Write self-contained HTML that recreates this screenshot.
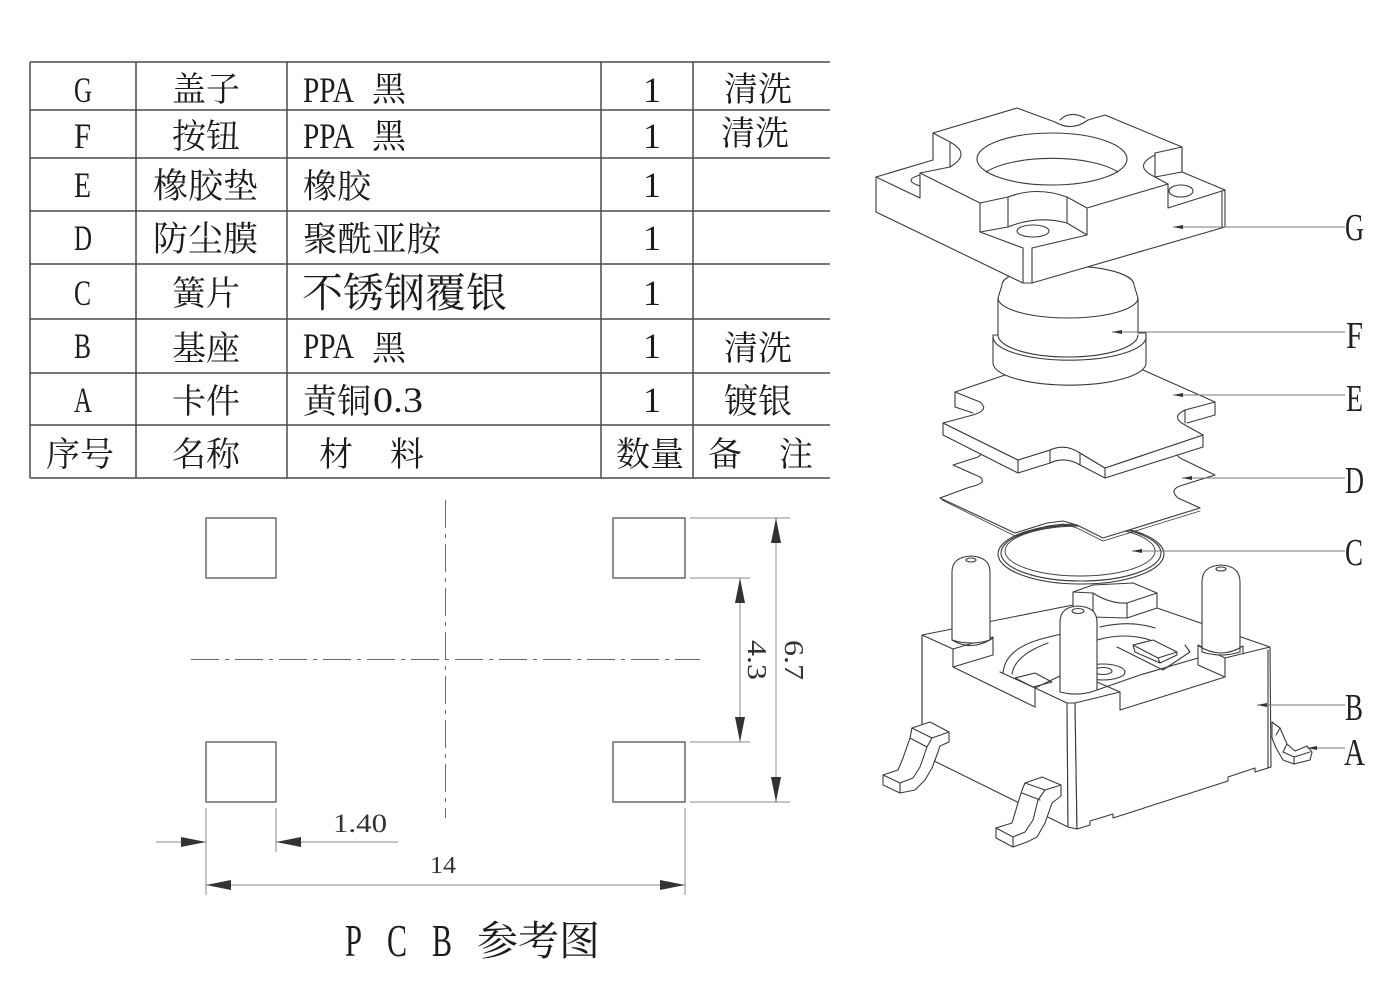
<!DOCTYPE html>
<html><head><meta charset="utf-8"><style>
html,body{margin:0;padding:0;background:#fff;}
svg{display:block;}
.cn{font-family:"Liberation Serif","Noto Serif CJK SC",serif;font-size:34px;fill:#1c1c1c;}
.lt{font-family:"Liberation Serif",serif;font-size:36px;fill:#1c1c1c;}
.dm{font-family:"Liberation Serif",serif;fill:#333;}
</style></head><body>
<svg width="1400" height="1000" viewBox="0 0 1400 1000" xmlns="http://www.w3.org/2000/svg">
<rect width="1400" height="1000" fill="#fff"/>

<!-- ===== TABLE ===== -->
<g stroke="#4a4a4a" stroke-width="1.5" fill="none">
  <line x1="30" y1="62" x2="830" y2="62"/>
  <line x1="30" y1="110" x2="830" y2="110"/>
  <line x1="30" y1="158" x2="830" y2="158"/>
  <line x1="30" y1="211" x2="830" y2="211"/>
  <line x1="30" y1="264" x2="830" y2="264"/>
  <line x1="30" y1="319" x2="830" y2="319"/>
  <line x1="30" y1="373" x2="830" y2="373"/>
  <line x1="30" y1="425" x2="830" y2="425"/>
  <line x1="30" y1="478" x2="830" y2="478"/>
  <line x1="30" y1="62" x2="30" y2="478"/>
  <line x1="136" y1="62" x2="136" y2="478"/>
  <line x1="287" y1="62" x2="287" y2="478"/>
  <line x1="601" y1="62" x2="601" y2="478"/>
  <line x1="693" y1="62" x2="693" y2="478"/>
</g>

<!-- column 1 letters -->
<text x="74" y="102" class="lt" textLength="18" lengthAdjust="spacingAndGlyphs">G</text>
<text x="74" y="148" class="lt" textLength="17" lengthAdjust="spacingAndGlyphs">F</text>
<text x="74" y="197" class="lt" textLength="17" lengthAdjust="spacingAndGlyphs">E</text>
<text x="74" y="250" class="lt" textLength="18" lengthAdjust="spacingAndGlyphs">D</text>
<text x="74" y="305" class="lt" textLength="17" lengthAdjust="spacingAndGlyphs">C</text>
<text x="74" y="358" class="lt" textLength="17" lengthAdjust="spacingAndGlyphs">B</text>
<text x="74" y="412" class="lt" textLength="18" lengthAdjust="spacingAndGlyphs">A</text>

<!-- column 2 -->
<text x="172" y="101" class="cn">盖子</text>
<text x="172" y="148" class="cn">按钮</text>
<text x="153" y="198" class="cn" style="font-size:35px">橡胶垫</text>
<text x="153" y="251" class="cn" style="font-size:35px">防尘膜</text>
<text x="172" y="305" class="cn">簧片</text>
<text x="172" y="360" class="cn">基座</text>
<text x="172" y="413" class="cn">卡件</text>

<!-- column 3 -->
<text x="303" y="102" class="lt" textLength="51" lengthAdjust="spacingAndGlyphs">PPA</text>
<text x="372" y="101" class="cn">黑</text>
<text x="303" y="148" class="lt" textLength="51" lengthAdjust="spacingAndGlyphs">PPA</text>
<text x="372" y="148" class="cn">黑</text>
<text x="303" y="198" class="cn">橡胶</text>
<text x="303" y="251" class="cn" style="font-size:34.5px">聚酰亚胺</text>
<text x="302" y="307" class="cn" style="font-size:41px">不锈钢覆银</text>
<text x="303" y="358" class="lt" textLength="51" lengthAdjust="spacingAndGlyphs">PPA</text>
<text x="372" y="360" class="cn">黑</text>
<text x="303" y="413" class="cn">黄铜</text>
<text x="373" y="412" class="lt" textLength="50" lengthAdjust="spacingAndGlyphs">0.3</text>

<!-- column 4 -->
<text x="652" y="102" class="lt" text-anchor="middle">1</text>
<text x="652" y="148" class="lt" text-anchor="middle">1</text>
<text x="652" y="197" class="lt" text-anchor="middle">1</text>
<text x="652" y="250" class="lt" text-anchor="middle">1</text>
<text x="652" y="305" class="lt" text-anchor="middle">1</text>
<text x="652" y="358" class="lt" text-anchor="middle">1</text>
<text x="652" y="412" class="lt" text-anchor="middle">1</text>

<!-- column 5 -->
<text x="724" y="101" class="cn">清洗</text>
<text x="721" y="145" class="cn">清洗</text>
<text x="724" y="360" class="cn">清洗</text>
<text x="724" y="413" class="cn">镀银</text>

<!-- header -->
<text x="46" y="466" class="cn">序号</text>
<text x="172" y="466" class="cn">名称</text>
<text x="319" y="466" class="cn">材</text>
<text x="390" y="466" class="cn">料</text>
<text x="616" y="466" class="cn">数量</text>
<text x="708" y="466" class="cn">备</text>
<text x="779" y="466" class="cn">注</text>

<!-- ===== PCB ===== -->
<g stroke="#555" stroke-width="1.3" fill="none">
  <rect x="206" y="518" width="70" height="60"/>
  <rect x="613" y="518" width="72" height="60"/>
  <rect x="206" y="742" width="70" height="60"/>
  <rect x="613" y="742" width="72" height="60"/>
</g>
<g stroke="#666" stroke-width="1" fill="none" stroke-dasharray="28,6,4,6">
  <line x1="445.5" y1="500" x2="445.5" y2="818"/>
  <line x1="191" y1="659.5" x2="700" y2="659.5"/>
</g>
<g stroke="#888" stroke-width="1" fill="none">
  <line x1="690" y1="518" x2="790" y2="518"/>
  <line x1="690" y1="578" x2="750" y2="578"/>
  <line x1="690" y1="742" x2="750" y2="742"/>
  <line x1="690" y1="802" x2="790" y2="802"/>
  <line x1="776" y1="518" x2="776" y2="802"/>
  <line x1="740" y1="578" x2="740" y2="742"/>
  <line x1="206" y1="808" x2="206" y2="895"/>
  <line x1="276" y1="808" x2="276" y2="852"/>
  <line x1="685" y1="808" x2="685" y2="895"/>
  <line x1="156" y1="842" x2="206" y2="842"/>
  <line x1="276" y1="842" x2="398" y2="842"/>
  <line x1="206" y1="885" x2="685" y2="885"/>
</g>
<g fill="#333" stroke="none">
  <polygon points="776,518 771,543 781,543"/>
  <polygon points="776,802 771,777 781,777"/>
  <polygon points="740,578 735,603 745,603"/>
  <polygon points="740,742 735,717 745,717"/>
  <polygon points="206,842 181,837 181,847"/>
  <polygon points="276,842 301,837 301,847"/>
  <polygon points="206,885 231,880 231,890"/>
  <polygon points="685,885 660,880 660,890"/>
</g>
<text class="dm" transform="translate(785,640) rotate(90)" font-size="27" textLength="40" lengthAdjust="spacingAndGlyphs">6.7</text>
<text class="dm" transform="translate(748,640) rotate(90)" font-size="27" textLength="40" lengthAdjust="spacingAndGlyphs">4.3</text>
<text class="dm" x="333" y="832" font-size="26" textLength="54" lengthAdjust="spacingAndGlyphs">1.40</text>
<text class="dm" x="430" y="873" font-size="24" textLength="26" lengthAdjust="spacingAndGlyphs">14</text>

<text x="345" y="956" style="font-family:'Liberation Serif',serif;font-size:45px;fill:#1c1c1c" textLength="17" lengthAdjust="spacingAndGlyphs">P</text>
<text x="387" y="956" style="font-family:'Liberation Serif',serif;font-size:45px;fill:#1c1c1c" textLength="20" lengthAdjust="spacingAndGlyphs">C</text>
<text x="432" y="956" style="font-family:'Liberation Serif',serif;font-size:45px;fill:#1c1c1c" textLength="20" lengthAdjust="spacingAndGlyphs">B</text>
<text x="477" y="955" class="cn" style="font-size:41px">参考图</text>

<!-- ===== EXPLODED VIEW ===== -->
<g stroke="#3a3a3a" stroke-width="1.1" fill="none" stroke-linejoin="round" stroke-linecap="round">

<!-- B body -->
<polygon fill="#fff" points="922,635 953,649 953,667 1035,707 1035,688 1067,703 1068,827 922,755"/>
<polygon fill="#fff" points="1067,703 1075,703 1077,829 1068,827"/>
<polygon fill="#fff" points="1075,703 1120,692 1120,710 1225,677 1225,658 1270,647 1271,767 1255,772 1255,768 1228,777 1228,781 1113,818 1113,814 1090,821 1090,825 1077,829"/>
<line x1="1268" y1="650" x2="1268" y2="768"/>
<path d="M922,635 L1073,605"/>
<path d="M1157,608 L1270,647"/>
<path d="M953,649 L993,637 L993,655 L953,667"/>
<path d="M1225,658 L1198,645 L1198,665 L1225,677"/>
<path d="M1035,688 L1060,676 M1120,692 L1097,682"/>
<path d="M1000,672 L1035,688"/>
<!-- hub -->
<polygon fill="#fff" points="1073,592 1093,585 1133,583 1157,593 1157,608 1127,618 1093,617 1073,610"/>
<path d="M1093,593 Q1110,604 1127,603 L1157,593 M1127,603 L1127,618 M1093,593 L1093,617 M1073,592 L1093,593"/>
<!-- recess details -->
<path d="M1003,673 Q1005,648 1045,638 Q1060,634 1072,632"/>
<path d="M1012,674 Q1015,655 1048,643"/>
<path d="M1100,627 Q1130,620 1155,628"/>
<path d="M1097,640 Q1125,632 1150,640"/>
<polygon points="1015,678 1035,673 1052,682 1033,687"/>
<polygon fill="#fff" points="1133,645 1153,640 1177,652 1158,658"/>
<path d="M1133,645 L1135,652 L1160,663 L1177,655 L1177,652 M1158,658 L1160,663"/>
<path d="M1117,647 L1163,670 L1190,652 L1185,645"/>
<ellipse cx="1103" cy="672" rx="22" ry="8"/>
<ellipse cx="1103" cy="671" rx="9" ry="3.5"/>
<path d="M1097,690 Q1120,682 1140,675 L1198,658"/>
<!-- posts -->
<path fill="#fff" d="M952,640 L952,572 Q952,557 971,556 Q990,557 990,572 L990,640 Q971,646 952,640 Z"/>
<ellipse cx="971" cy="560" rx="5" ry="2"/>
<path d="M952,640 Q972,652 993,638"/>
<path fill="#fff" d="M1202,652 L1202,582 Q1202,566 1221,565 Q1240,566 1240,582 L1240,652 Q1221,658 1202,652 Z"/>
<ellipse cx="1221" cy="569" rx="5" ry="2"/>
<path d="M1199,646 Q1221,660 1243,646 L1243,654"/>
<path fill="#fff" d="M1060,692 L1060,622 Q1060,607 1078,606 Q1097,607 1097,622 L1097,690 Q1079,697 1060,692 Z"/>
<ellipse cx="1078" cy="611" rx="6" ry="2.5"/>
<line x1="922" y1="635" x2="922" y2="725"/>

<!-- A terminals -->
<path fill="#fff" d="M912,728 L930,722 L949,732 L949,742 L940,746 L938,752 L932,768 L925,780 L915,790 L900,793 L883,785 L883,775 L898,770 L903,758 L910,738 Z"/>
<path d="M912,728 L932,738 L949,732 M932,738 L927,747 L920,767 L913,778 L900,783 L883,775 M900,783 L900,793 M910,738 L927,747"/>
<path fill="#fff" d="M1025,783 L1042,777 L1061,785 L1061,796 L1052,803 L1045,823 L1037,837 L1027,842 L1013,847 L996,838 L996,828 L1012,823 L1018,803 L1022,790 Z"/>
<path d="M1025,783 L1045,790 L1061,785 M1045,790 L1038,800 L1033,820 L1025,832 L1013,837 L996,828 M1013,837 L1013,847 M1022,793 L1040,800"/>
<path fill="#fff" d="M1272,722 L1280,728 L1287,744 L1295,751 L1307,746 L1312,752 L1310,760 L1294,764 L1283,760 L1276,748 L1272,738 Z"/>
<path d="M1280,728 L1276,735 M1287,744 L1283,752 L1294,757 L1310,752 M1294,757 L1294,764"/>

<!-- C disc -->
<ellipse cx="1081" cy="554" rx="83" ry="30" fill="#fff"/>
<ellipse cx="1081" cy="553" rx="80" ry="28"/>
<ellipse cx="1080" cy="551" rx="75" ry="25" stroke-width="0.9"/>

<!-- D film -->
<path fill="#fff" d="M978,457 L953,465 L980,477 Q988,483 970,487 L940,498 L1015,533 L1047,523 L1063,521 L1077,525 L1103,538 L1200,508 L1178,498 Q1168,489 1183,485 L1215,475 L1180,458 L1150,430 L1000,440 Z"/>
<path stroke-width="0.8" d="M942,500 L1015,536 L1047,526 L1063,524 L1077,528 L1103,541 L1200,511"/>

<!-- E pad -->
<path fill="#fff" d="M943,423 L943,435 L1018,473 L1050,463 Q1065,456 1080,465 L1105,478 L1203,447 L1203,435 L1105,468 L1080,453 Q1065,443 1050,450 L1018,460 Z"/>
<path fill="#fff" d="M1005,375 L955,392 L980,402 Q990,410 973,415 L943,423 L1018,460 L1050,450 Q1065,443 1080,453 L1105,468 L1203,435 L1185,425 Q1170,417 1185,410 L1215,402 L1143,370 L1075,348 Z"/>
<path d="M1018,460 V473 M1050,450 V463 M1080,453 V465 M1105,468 V478"/>
<path d="M955,392 V407 L973,413 M1185,410 V423 M1215,402 V415 L1187,423"/>

<!-- F button -->
<path fill="#fff" d="M993,335 L993,363 A76,22 0 0 0 1146,363 L1146,333 L1138,333 L1138,298 L1134,285 A66,19 0 0 0 1002,285 L998,298 L998,335 Z"/>
<path d="M998,298 A70,20 0 0 0 1138,298"/>
<path d="M998,335 A70,22 0 0 0 1138,335"/>
<path d="M993,337 A76,23 0 0 0 1146,337"/>

<!-- G cover -->
<path fill="#fff" d="M876,177 L933,160 L933,133 L1017,108 L1055,122 Q1072,132 1088,120 L1105,115 L1182,147 L1182,172 L1225,190 L1225,227 L1032,283 L1023,283 L876,212 Z"/>
<path d="M876,177 L920,198 M920,173 V198 M920,173 L980,203"/>
<path d="M980,203 V232 L1023,248"/>
<path d="M980,203 L1008,197 Q1037,186 1067,197 L1087,208"/>
<path d="M1008,197 V227 M1067,197 V223 M1087,208 V235"/>
<path d="M980,232 L1008,227 Q1037,215 1067,223 L1087,235 L1032,248"/>
<ellipse cx="1033" cy="231" rx="16" ry="6"/>
<path d="M1023,248 V283 M1032,248 V283"/>
<path d="M1087,208 L1168,184 V208 L1225,190"/>
<path d="M1168,184 L1155,177 M1155,153 V177 M1155,155 Q1132,166 1155,177 M1155,177 L1182,172 M1155,153 L1182,147 M1182,147 V172"/>
<line x1="1222" y1="191" x2="1222" y2="228"/>
<ellipse cx="1181" cy="191" rx="12" ry="6"/>
<path d="M933,133 L950,142 V167 L920,173 M950,142 Q972,154 950,167 M920,175 Q902,180 920,186"/>
<ellipse cx="1052" cy="159" rx="75" ry="26"/>
<path d="M986,172 A75,26 0 0 1 1118,172"/>
<path d="M1060,120 Q1070,110 1085,118"/>
</g>

<!-- leaders -->
<g stroke="#777" stroke-width="1">
  <line x1="1173" y1="227" x2="1345" y2="227"/>
  <line x1="1112" y1="332" x2="1345" y2="332"/>
  <line x1="1173" y1="395" x2="1345" y2="395"/>
  <line x1="1182" y1="478" x2="1345" y2="478"/>
  <line x1="1132" y1="551" x2="1345" y2="551"/>
  <line x1="1257" y1="705" x2="1345" y2="705"/>
  <line x1="1307" y1="748" x2="1345" y2="748"/>
</g>
<g fill="#333">
  <polygon points="1173,227 1183,225 1183,229"/>
  <polygon points="1112,332 1122,330 1122,334"/>
  <polygon points="1173,395 1183,393 1183,397"/>
  <polygon points="1182,478 1192,476 1192,480"/>
  <polygon points="1132,551 1142,549 1142,553"/>
  <polygon points="1257,705 1267,703 1267,707"/>
  <polygon points="1307,748 1317,746 1317,750"/>
</g>
<g style="font-family:'Liberation Serif',serif;font-size:38px;fill:#222">
  <text x="1345" y="240" textLength="19" lengthAdjust="spacingAndGlyphs">G</text>
  <text x="1346" y="348" textLength="17" lengthAdjust="spacingAndGlyphs">F</text>
  <text x="1346" y="411" textLength="17" lengthAdjust="spacingAndGlyphs">E</text>
  <text x="1345" y="493" textLength="19" lengthAdjust="spacingAndGlyphs">D</text>
  <text x="1345" y="565" textLength="18" lengthAdjust="spacingAndGlyphs">C</text>
  <text x="1345" y="720" textLength="18" lengthAdjust="spacingAndGlyphs">B</text>
  <text x="1344" y="765" textLength="21" lengthAdjust="spacingAndGlyphs">A</text>
</g>
</svg>
</body></html>
